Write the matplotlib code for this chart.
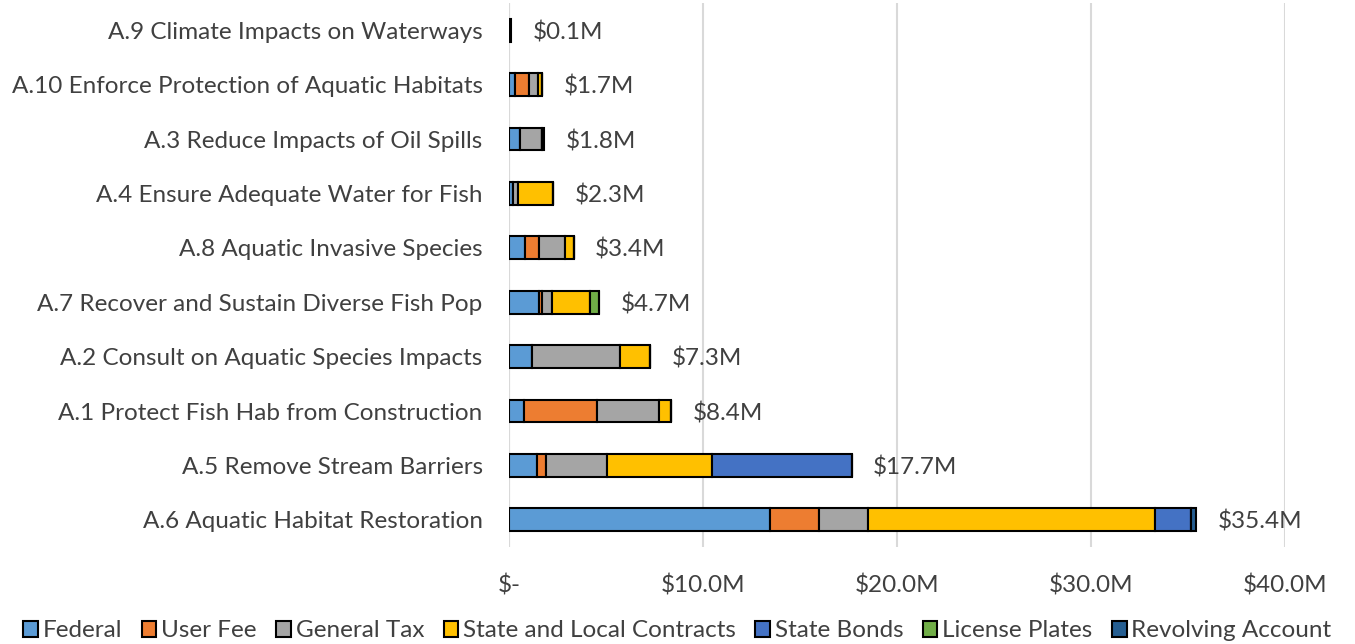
import numpy as np
import matplotlib.pyplot as plt

# categories bottom to top
categories = ['A.6 Aquatic Habitat Restoration', 'A.5 Remove Stream Barriers',
              'A.1 Protect Fish Hab from Construction', 'A.2 Consult on Aquatic Species Impacts',
              'A.7 Recover and Sustain Diverse Fish Pop', 'A.8 Aquatic Invasive Species',
              'A.4 Ensure Adequate Water for Fish', 'A.3 Reduce Impacts of Oil Spills',
              'A.10 Enforce Protection of Aquatic Habitats', 'A.9 Climate Impacts on Waterways']

# values in $M
federal = [13.45, 1.43, 0.79, 1.2, 1.56, 0.82, 0.22, 0.55, 0.3, 0.0]
user_fee = [2.53, 0.48, 3.73, 0.0, 0.15, 0.74, 0.0, 0.0, 0.75, 0.0]
general_tax = [2.53, 3.13, 3.2, 4.5, 0.52, 1.32, 0.23, 1.15, 0.45, 0.0]
state_local = [14.8, 5.43, 0.63, 1.57, 1.93, 0.45, 1.84, 0.0, 0.2, 0.0]
state_bonds = [1.86, 7.2, 0.0, 0.0, 0.0, 0.0, 0.0, 0.0, 0.0, 0.0]
license_plates = [0.0, 0.0, 0.0, 0.0, 0.5, 0.0, 0.0, 0.0, 0.0, 0.0]
revolving = [0.26, 0.0, 0.0, 0.0, 0.0, 0.0, 0.0, 0.1, 0.0, 0.1]
totals = ['$35.4M', '$17.7M', '$8.4M', '$7.3M', '$4.7M', '$3.4M', '$2.3M', '$1.8M', '$1.7M', '$0.1M']

series = [('Federal', federal, '#5B9BD5'), ('User Fee', user_fee, '#ED7D31'),
          ('General Tax', general_tax, '#A5A5A5'), ('State and Local Contracts', state_local, '#FFC000'),
          ('State Bonds', state_bonds, '#4472C4'), ('License Plates', license_plates, '#70AD47'),
          ('Revolving Account', revolving, '#255E91')]

xticks = [0, 10, 20, 30, 40]
xticklabels = ['$-', '$10.0M', '$20.0M', '$30.0M', '$40.0M']

plt.rcParams['font.family'] = ['Lato', 'DejaVu Sans']
text_color = '#404040'
fs = 17.5

fig = plt.figure(figsize=(13.55, 6.44), dpi=100)
ax = fig.add_axes([0.3757, 0.1506, 0.5727, 0.8447])

y = np.arange(len(categories))
left = np.zeros(len(categories))
for name, vals, color in series:
    vals = np.array(vals)
    ax.barh(y, vals, left=left, height=0.42, color=color, edgecolor='black',
            linewidth=1.5, label=name, zorder=3)
    left = left + vals

# total labels to the right of each bar
for yi, tot, lab in zip(y, left, totals):
    ax.text(tot + 1.1, yi, lab, va='center_baseline', ha='left', fontsize=fs, color=text_color)

ax.set_xlim(0, 40)
ax.set_ylim(-0.5, len(categories) - 0.5)
ax.set_yticks(y)
ax.set_yticklabels(categories, fontsize=fs, color=text_color)
ax.set_xticks(xticks)
ax.set_xticklabels(xticklabels, fontsize=fs, color=text_color)
ax.tick_params(axis='both', length=0)
ax.tick_params(axis='y', pad=19)
ax.tick_params(axis='x', pad=20)
ax.xaxis.grid(True, color='#D9D9D9', linewidth=1.5, zorder=0)
for s in ax.spines.values():
    s.set_visible(False)
ax.axvline(0, color='#D9D9D9', linewidth=1.5, zorder=1)

fig.legend(loc='lower center', bbox_to_anchor=(0.5, -0.03), ncol=7, frameon=False,
           fontsize=fs, handlelength=0.6, handleheight=0.6, handletextpad=0.2,
           columnspacing=0.8, labelcolor=text_color)

plt.savefig('out.png', dpi=100)
plt.close()
